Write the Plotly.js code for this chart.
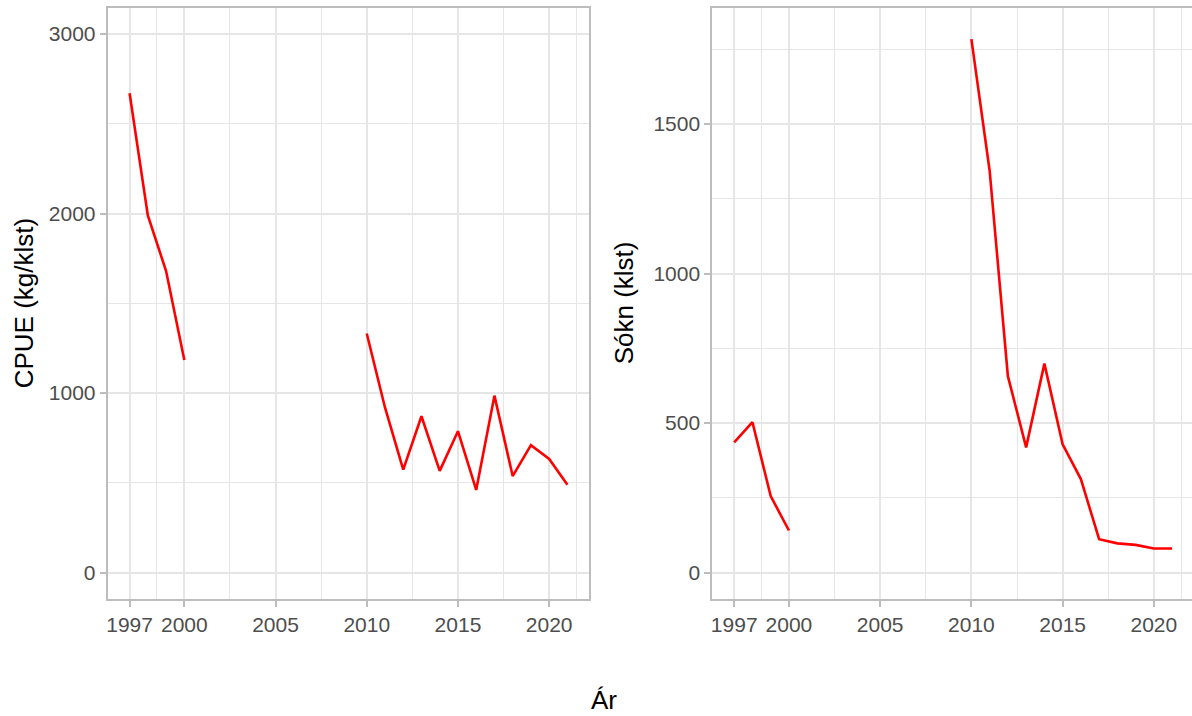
<!DOCTYPE html>
<html>
<head>
<meta charset="utf-8">
<script src="https://cdn.plot.ly/plotly-3.0.1.min.js"></script>
<style>
html, body { margin: 0; padding: 0; overflow: hidden; background: #ffffff; }
#chart { width: 1196px; height: 716px; }
</style>
</head>
<body>
<div id="chart"></div>
<script>
// ---- data ----
var years = [1997, 1998, 1999, 2000, 2010, 2011, 2012, 2013, 2014, 2015, 2016, 2017, 2018, 2019, 2020, 2021];
var cpue  = [2670, 1990, 1680, 1185, 1332, 920, 574, 871, 567, 788, 461, 986, 538, 710, 633, 490];
var sokn  = [436, 503, 256, 141, 1784, 1344, 657, 419, 699, 429, 313, 112, 98, 93, 81, 81];
var xTickVals = [1997, 2000, 2005, 2010, 2015, 2020];
var xTickText = ['1997', '2000', '2005', '2010', '2015', '2020'];
var cpueTicks = [0, 1000, 2000, 3000];
var soknTicks = [0, 500, 1000, 1500];
var titleLeft = 'CPUE (kg/klst)';
var titleRight = 'Sókn (klst)';
var titleX = 'Ár';

// break the line where years are missing
function withGaps(xs, ys) {
  var ox = [], oy = [];
  for (var i = 0; i < xs.length; i++) {
    if (i > 0 && xs[i] - xs[i - 1] > 1) { ox.push(xs[i - 1] + 1); oy.push(null); }
    ox.push(xs[i]); oy.push(ys[i]);
  }
  return {x: ox, y: oy};
}
var a = withGaps(years, cpue);
var b = withGaps(years, sokn);

var W = 1196, H = 716;
var FONT = '"Liberation Sans", Arial, Helvetica, sans-serif';
var GRID = '#E6E6E6', GRIDMINOR = '#E6E6E6', BORDER = '#BDBDBD', TICKTXT = '#4D4D4D';

function xaxisCfg(d0, d1, anchor) {
  return {
    domain: [d0 / W, d1 / W], anchor: anchor,
    range: [1995.8, 2022.2], tickmode: 'array', tickvals: xTickVals, ticktext: xTickText,
    showgrid: true, gridcolor: GRID, gridwidth: 2,
    minor: {tickmode: 'array', tickvals: [1995.5, 1998.5, 2002.5, 2007.5, 2012.5, 2017.5, 2021.5], showgrid: true, gridcolor: GRIDMINOR, gridwidth: 1, ticks: ''},
    showline: true, mirror: true, linecolor: BORDER, linewidth: 2,
    ticks: 'outside', ticklen: 6, tickwidth: 2, tickcolor: BORDER,
    tickfont: {family: FONT, size: 21, color: TICKTXT},
    zeroline: false, fixedrange: true
  };
}
function yaxisCfg(range, ticks, minorVals, anchor) {
  return {
    domain: [1 - 598.7 / H, 1 - 8 / H], anchor: anchor,
    range: range, tickmode: 'array', tickvals: ticks, ticktext: ticks.map(String),
    showgrid: true, gridcolor: GRID, gridwidth: 2,
    minor: {tickmode: 'array', tickvals: minorVals, showgrid: true, gridcolor: GRIDMINOR, gridwidth: 1, ticks: ''},
    showline: true, mirror: true, linecolor: BORDER, linewidth: 2,
    ticks: 'outside', ticklen: 6, tickwidth: 2, tickcolor: BORDER,
    tickfont: {family: FONT, size: 21, color: TICKTXT},
    zeroline: false, fixedrange: true
  };
}

var traces = [
  {x: a.x, y: a.y, xaxis: 'x', yaxis: 'y', type: 'scatter', mode: 'lines', connectgaps: false,
   line: {color: '#FF0000', width: 2.6}, hoverinfo: 'skip'},
  {x: b.x, y: b.y, xaxis: 'x2', yaxis: 'y2', type: 'scatter', mode: 'lines', connectgaps: false,
   line: {color: '#FF0000', width: 2.6}, hoverinfo: 'skip'}
];

var layout = {
  width: W, height: H,
  margin: {l: 0, r: 0, t: 0, b: 0},
  paper_bgcolor: '#ffffff', plot_bgcolor: '#ffffff',
  showlegend: false,
  font: {family: FONT},
  xaxis: xaxisCfg(107.7, 589.3, 'y'),
  yaxis: yaxisCfg([-145, 3145], cpueTicks, [500, 1500, 2500], 'x'),
  xaxis2: xaxisCfg(712.3, 1194, 'y2'),
  yaxis2: yaxisCfg([-87, 1888], soknTicks, [250, 750, 1250, 1750], 'x2'),
  annotations: [
    {text: titleLeft, xref: 'paper', yref: 'paper', x: 24 / W, y: 1 - 303.3 / H,
     xanchor: 'center', yanchor: 'middle', textangle: -90, showarrow: false,
     font: {family: FONT, size: 26, color: '#000000'}},
    {text: titleRight, xref: 'paper', yref: 'paper', x: 624 / W, y: 1 - 303.3 / H,
     xanchor: 'center', yanchor: 'middle', textangle: -90, showarrow: false,
     font: {family: FONT, size: 26, color: '#000000'}},
    {text: titleX, xref: 'paper', yref: 'paper', x: 604 / W, y: 1 - 700 / H,
     xanchor: 'center', yanchor: 'middle', showarrow: false,
     font: {family: FONT, size: 26, color: '#000000'}}
  ]
};

Plotly.newPlot('chart', traces, layout, {displayModeBar: false, staticPlot: true});
</script>
</body>
</html>
